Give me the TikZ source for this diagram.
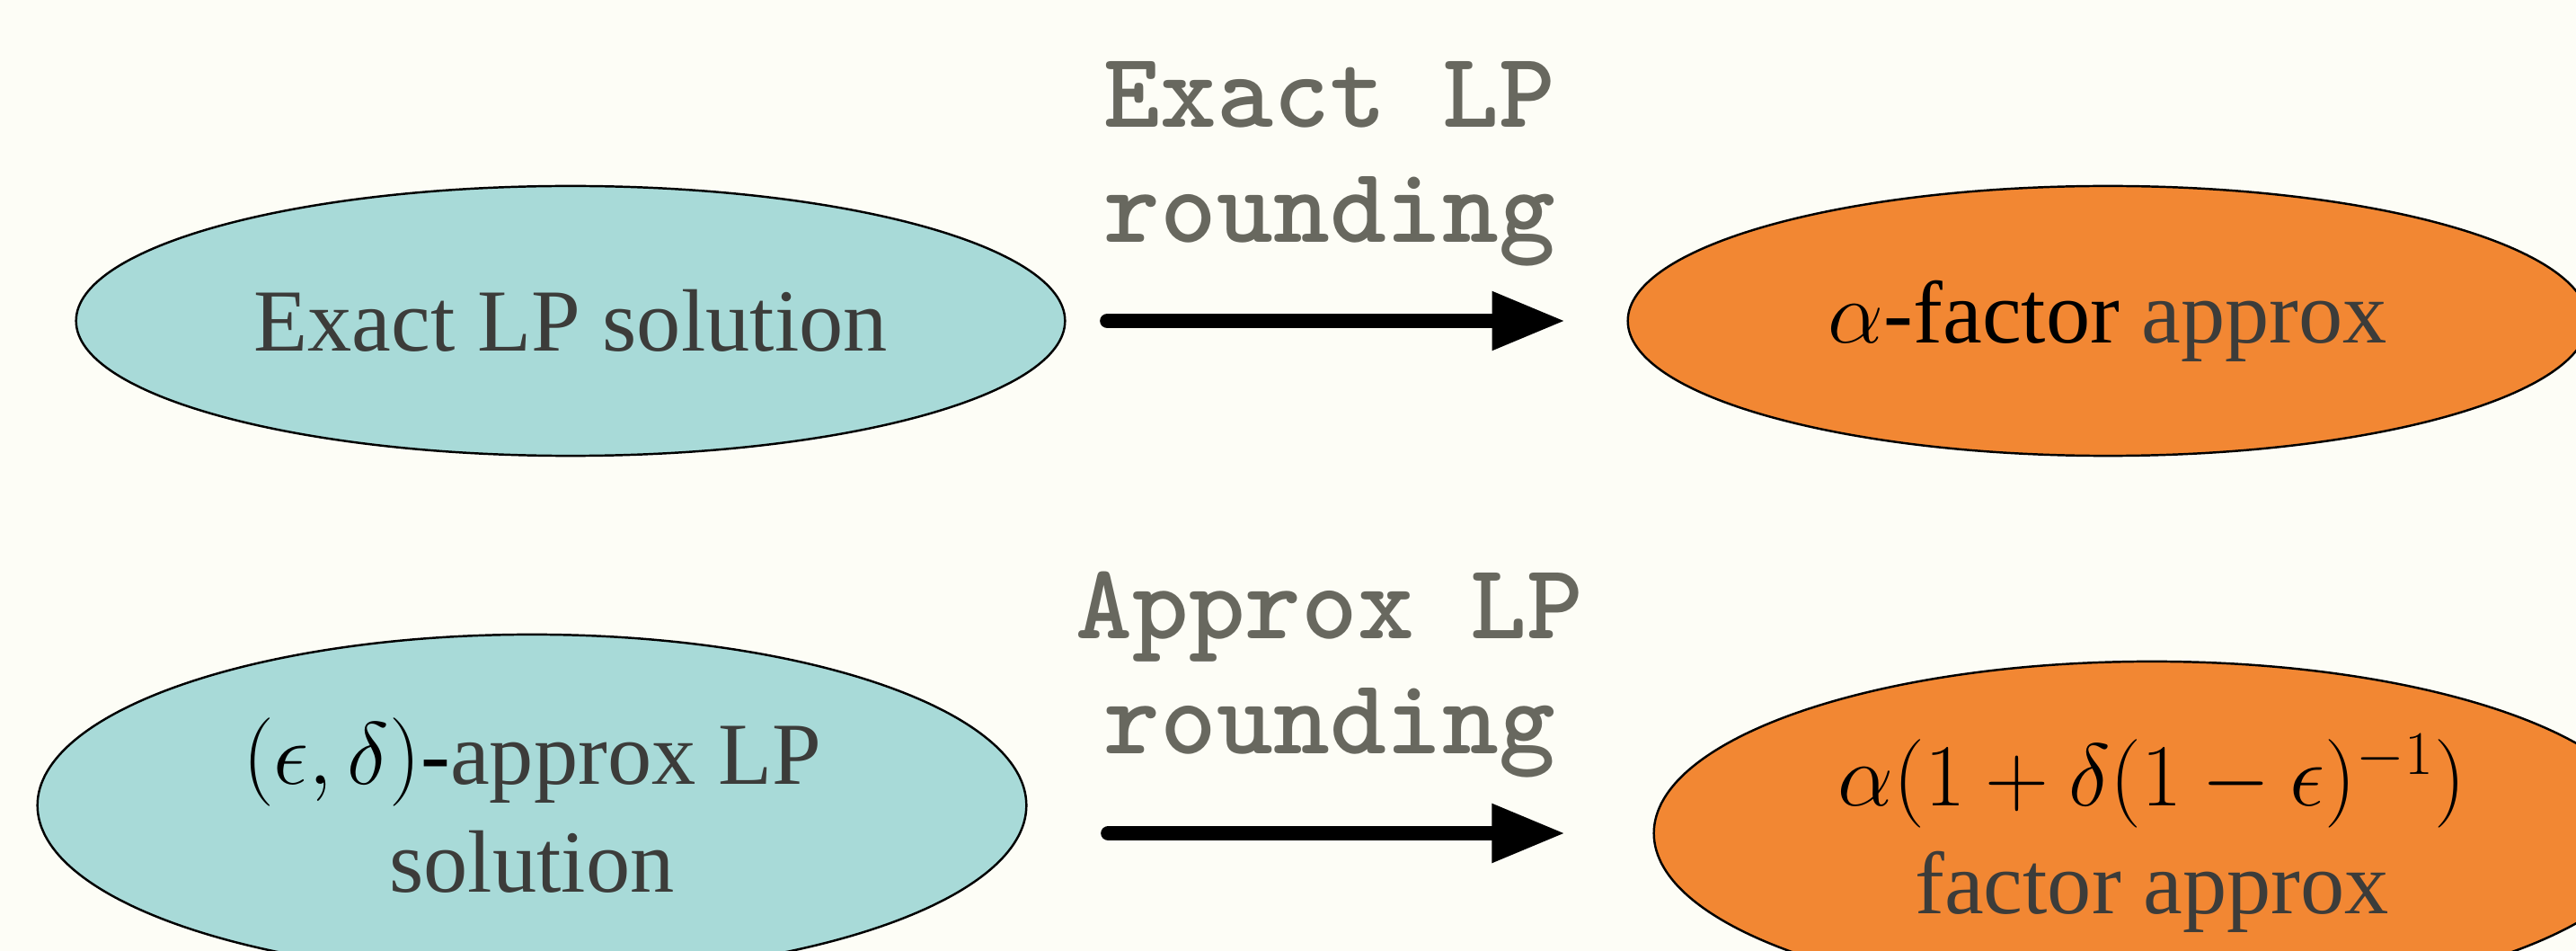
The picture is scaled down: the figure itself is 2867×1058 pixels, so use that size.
\documentclass[tikz,border=0pt]{standalone}
\usepackage{fix-cm}
\usepackage{fontspec}
\setmainfont{Liberation Serif}
\usetikzlibrary{shapes.geometric,arrows.meta}
\definecolor{bgc}{HTML}{FDFDF6}
\definecolor{tealc}{HTML}{A8DAD8}
\definecolor{orangec}{HTML}{F28733}
\definecolor{txtc}{HTML}{3C3C3A}
\definecolor{labc}{HTML}{68685F}
\begin{document}
\begin{tikzpicture}[x=0.01cm,y=-0.01cm,
  blob/.style={ellipse,draw=black,line width=0.7pt,inner sep=0pt,align=center,
    font=\fontsize{28}{34}\selectfont,text=txtc},
  solnode/.style={blob,fill=tealc},
  resnode/.style={blob,fill=orangec},
  lab/.style={font=\ttfamily\bfseries\fontsize{34}{36}\selectfont,text=labc,anchor=base,inner sep=0pt},
  flow/.style={line width=4.8pt,line cap=round,-{Triangle[length=23.3pt,width=17.4pt]}}]
\fill[bgc] (0,0) rectangle (2867,1058);
\useasboundingbox (0,0) rectangle (2867,1058);
\clip (0,0) rectangle (2867,1058);

\node[solnode,minimum width=11cm,minimum height=3cm] (tl) at (635,357) {Exact LP solution};
\node[resnode,minimum width=10.68cm,minimum height=3cm] (tr) at (2346,357)
  {\textcolor{black}{$\alpha$-factor} approx};
\node[solnode,minimum width=11cm,minimum height=3.8cm] (bl) at (592,896)
  {\textcolor{black}{$(\epsilon,\delta)$-}approx LP\\solution};
\node[resnode,minimum width=11.08cm,minimum height=3.82cm] (br) at (2395,927)
  {\textcolor{black}{$\alpha(1+\delta(1-\epsilon)^{-1})$}\\factor approx};

\node[lab] (l1a) at (1480,142) {Exact LP};
\node[lab] (l1b) at (1480,270) {rounding};
\node[lab] (l2a) at (1480,710) {Approx LP};
\node[lab] (l2b) at (1480,838) {rounding};

\draw[flow,shorten <=0.46cm,shorten >=0.68cm] (tl.east) -- (tr.west);
\coordinate (b1) at (bl.east |- br.west);
\draw[flow,shorten <=0.90cm,shorten >=0.97cm] (b1) -- (br.west);
\end{tikzpicture}
\end{document}
